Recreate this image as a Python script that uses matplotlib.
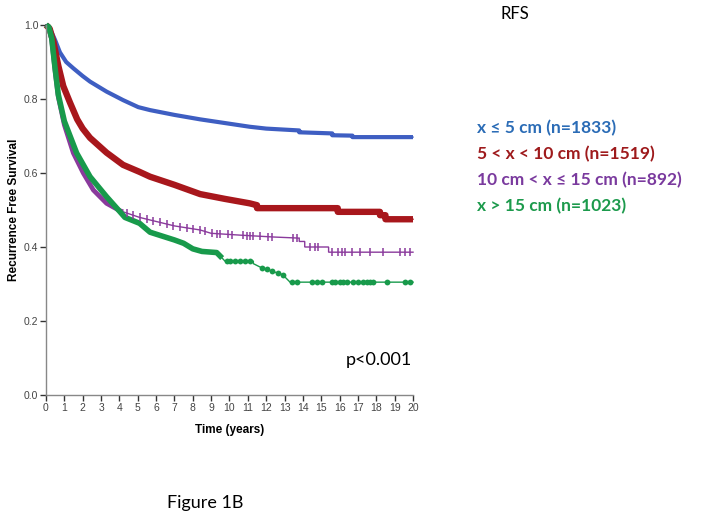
import numpy as np
import matplotlib
matplotlib.use("Agg")
import matplotlib.pyplot as plt

# ---------------- data ----------------
# Kaplan-Meier curves, read as (time, survival) points; repeated times mark visible drops.
blue_t = [0, 0.22, 0.49, 0.76, 1.1, 1.49, 2.0, 2.4, 3.3, 4.2, 5.03, 5.67, 7.0, 8.4, 9.75,
          11.1, 12.0, 13.8, 13.8, 15.6, 15.6, 16.7, 16.7, 20]
blue_s = [1.0, 0.99, 0.96, 0.926, 0.9, 0.883, 0.862, 0.847, 0.82, 0.797, 0.778, 0.77, 0.757,
          0.745, 0.735, 0.725, 0.72, 0.715, 0.71, 0.707, 0.702, 0.701, 0.697, 0.697]

red_t = [0, 0.2, 0.4, 0.67, 0.94, 1.31, 1.7, 2.0, 2.4, 3.3, 4.2, 5.1, 5.67, 7.0, 8.4,
         9.75, 11.1, 11.5, 11.5, 15.9, 15.9, 18.2, 18.2, 18.5, 18.5, 20]
red_s = [1.0, 0.99, 0.955, 0.89, 0.835, 0.79, 0.745, 0.72, 0.695, 0.655, 0.622, 0.603, 0.59,
         0.568, 0.543, 0.53, 0.518, 0.513, 0.505, 0.505, 0.495, 0.495, 0.486, 0.486, 0.475,
         0.475]

purple_t = [0, 0.15, 0.31, 0.49, 0.67, 1.0, 1.49, 2.03, 2.58, 3.3, 4.03, 5.1, 5.67, 7.0,
            8.4, 9.0, 10.6, 12.4, 13.8, 13.8, 14.1, 14.1, 15.4, 15.4, 20]
purple_s = [1.0, 0.995, 0.96, 0.878, 0.806, 0.73, 0.654, 0.60, 0.554, 0.518, 0.498, 0.48,
            0.473, 0.457, 0.446, 0.437, 0.432, 0.427, 0.424, 0.415, 0.415, 0.40, 0.40, 0.386,
            0.386]
purple_cens = [4.4, 4.76, 5.12, 5.49, 5.85, 6.21, 6.58, 6.94, 7.3, 7.67, 8.03, 8.4, 8.66,
               9.03, 9.30, 9.48, 9.94, 10.12, 10.75, 10.94, 11.12, 11.30, 11.66, 12.12, 12.30,
               13.48, 13.66, 14.39, 14.66, 14.84, 15.57, 15.93, 16.11, 16.29,
               16.66, 17.11, 17.66, 18.38, 19.29, 19.56, 19.84]

green_t = [0, 0.15, 0.31, 0.49, 0.67, 1.0, 1.67, 2.4, 3.3, 4.0, 4.3, 5.1, 5.67, 6.3, 7.0,
           7.5, 8.0, 8.5, 9.3, 9.6, 9.75, 11.3, 11.3, 11.7, 12.3, 12.9, 13.3, 20]
green_s = [1.0, 0.995, 0.965, 0.885, 0.812, 0.74, 0.654, 0.59, 0.536, 0.497, 0.48, 0.464,
           0.44, 0.43, 0.419, 0.41, 0.395, 0.388, 0.385, 0.37, 0.362, 0.362, 0.355, 0.345,
           0.335, 0.325, 0.305, 0.305]
green_cens = [9.85, 10.03, 10.3, 10.57, 10.84, 11.12, 11.75, 12.03, 12.3, 12.66, 12.93,
              13.39, 13.66, 14.48, 14.75, 15.02, 15.57, 15.75, 16.02, 16.2, 16.39, 16.75,
              17.02, 17.29, 17.47, 17.66, 17.84, 18.57, 19.56, 19.84]

labels = ["x \u2264 5 cm (n=1833)", "5 < x < 10 cm (n=1519)",
          "10 cm < x \u2264 15 cm (n=892)", "x > 15 cm (n=1023)"]

x_ticks = list(range(0, 21))
y_ticks = [0.0, 0.2, 0.4, 0.6, 0.8, 1.0]

# ---------------- figure ----------------
fig = plt.figure(figsize=(7.14, 5.23), dpi=100)
ax = fig.add_axes([46 / 714, (523 - 395) / 523, 367 / 714, 370 / 523])

c_blue, c_red, c_purple, c_green = "#3E5EC2", "#A8171C", "#8A3A9C", "#189A4B"
t_blue, t_red, t_purple, t_green = "#2B6CB6", "#9E1A1C", "#7A3A9E", "#1C9A4C"


def curve_at(ts, ss, x):
    return np.interp(x, ts, ss)


def km(ts, ss, color, thin_lw, thick_lw, dense_until):
    ts = np.asarray(ts, float)
    ss = np.asarray(ss, float)
    ax.plot(ts, ss, color=color, lw=thin_lw, solid_joinstyle="miter", clip_on=False)
    m = ts <= dense_until
    tt = np.append(ts[m], dense_until)
    sv = np.append(ss[m], curve_at(ts, ss, dense_until))
    ax.plot(tt, sv, color=color, lw=thick_lw, solid_capstyle="butt",
            solid_joinstyle="round", clip_on=False)


km(blue_t, blue_s, c_blue, 1.0, 3.0, 20)
km(red_t, red_s, c_red, 1.0, 4.6, 20)
km(purple_t, purple_s, c_purple, 1.0, 3.4, 4.2)
km(green_t, green_s, c_green, 1.0, 4.0, 9.6)

pc = np.asarray(purple_cens)
ax.plot(pc, curve_at(purple_t, purple_s, pc), ls="none", marker="|", ms=6, mew=1.1,
        color=c_purple, clip_on=False)
gc = np.asarray(green_cens)
ax.plot(gc, curve_at(green_t, green_s, gc), ls="none", marker="o", ms=4.2, mew=0,
        color=c_green, clip_on=False)

ax.set_xlim(0, 20)
ax.set_ylim(0, 1.0)
ax.set_xticks(x_ticks)
ax.set_yticks(y_ticks)
ax.set_yticklabels([f"{v:.1f}" for v in y_ticks])
for sp in ["top", "right"]:
    ax.spines[sp].set_visible(False)
for sp in ["left", "bottom"]:
    ax.spines[sp].set_color("#888888")
    ax.spines[sp].set_linewidth(1.0)
ax.tick_params(axis="both", colors="#333333", labelsize=7.5, length=4, width=1.0,
               direction="out", pad=1.5)
for lab in ax.get_xticklabels() + ax.get_yticklabels():
    lab.set_fontfamily("Liberation Sans")
    lab.set_color("#444444")

ax.set_xlabel("Time (years)", fontfamily="Liberation Sans", fontweight="bold",
              fontsize=8.5, labelpad=8)
ax.set_ylabel("Recurrence Free Survival", fontfamily="Liberation Sans",
              fontweight="bold", fontsize=8.5, labelpad=3)

fig.text(515 / 714, 1 - 14 / 523, "RFS", fontfamily="Lato", fontsize=12,
         ha="center", va="center")
fig.text(412 / 714, 1 - 360 / 523, "p<0.001", fontfamily="Lato", fontsize=13,
         ha="right", va="center")
fig.text(205 / 714, 1 - 503 / 523, "Figure 1B", fontfamily="Lato", fontsize=13,
         ha="center", va="center")

for lab, col, yy in zip(labels, [t_blue, t_red, t_purple, t_green], [128, 154, 180, 206]):
    fig.text(477 / 714, 1 - yy / 523, lab, fontfamily=["Lato", "DejaVu Sans"],
             fontweight="bold", fontsize=12.5, color=col, ha="left", va="center")

fig.savefig("out.png", dpi=100)
